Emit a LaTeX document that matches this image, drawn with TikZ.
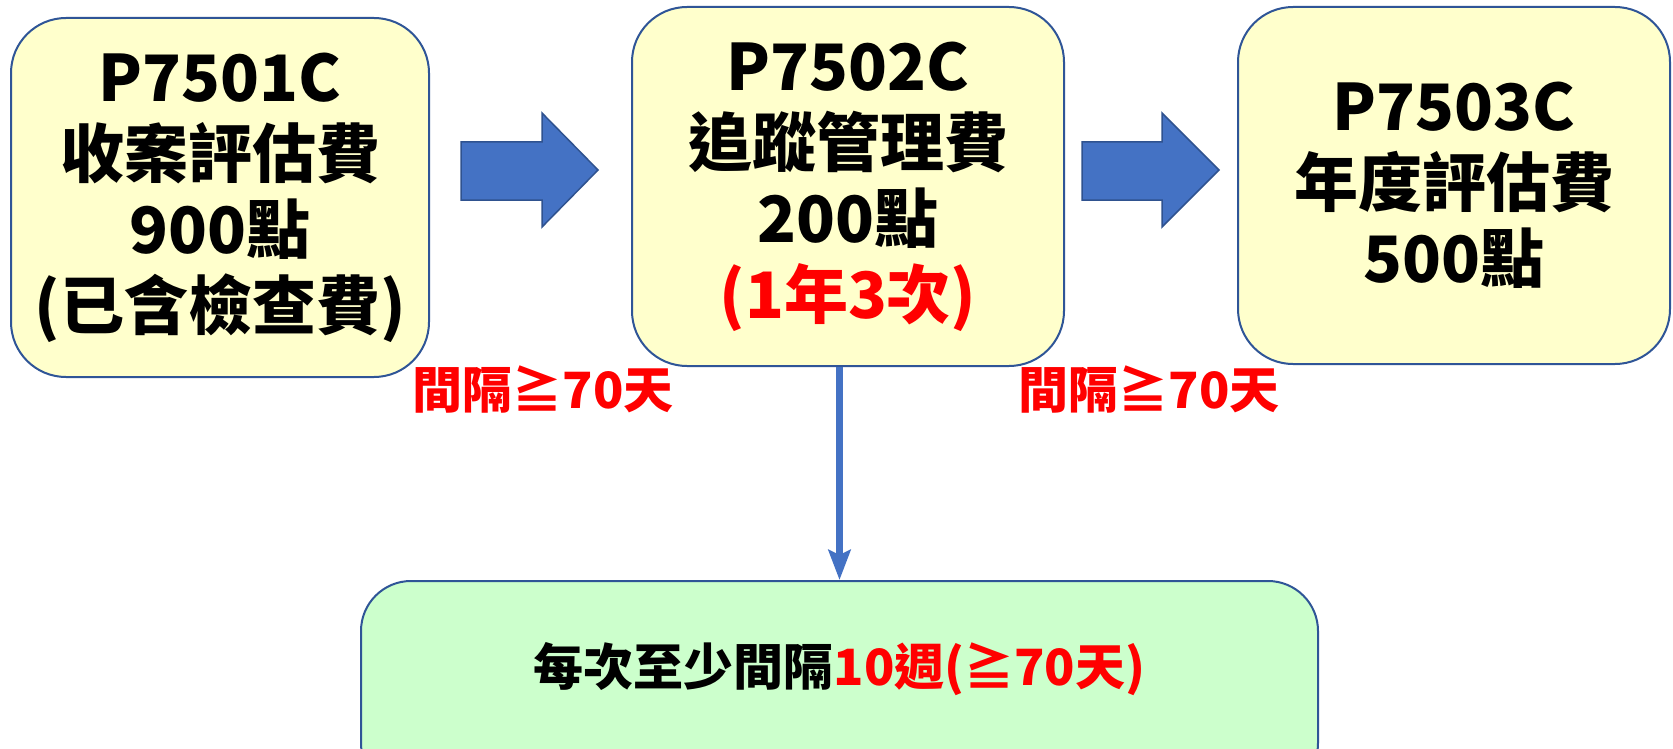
\documentclass[tikz,border=0pt]{standalone}
\usepackage{fontspec}
\setmainfont{Noto Sans CJK TC}
\usetikzlibrary{arrows.meta}
\definecolor{boxfill}{HTML}{FFFFCC}
\definecolor{greenfill}{HTML}{CCFFCC}
\definecolor{edgeblue}{HTML}{2F5597}
\definecolor{arrowfill}{HTML}{4472C4}
\definecolor{arrowedge}{HTML}{2F528F}
\definecolor{redtext}{HTML}{FF0000}
\begin{document}
\begin{tikzpicture}[x=1pt,y=-1pt,
  fee/.style={draw=edgeblue, line width=2pt, fill=boxfill, rounded corners=55pt,
    align=center, inner sep=0pt, font=\bfseries\fontsize{64}{76}\selectfont},
  note/.style={draw=edgeblue, line width=2pt, fill=greenfill, rounded corners=50pt, inner sep=0pt},
  gap/.style={text=redtext, font=\bfseries\fontsize{50}{60}\selectfont, inner sep=0pt},
  blockarrow/.style={fill=arrowfill, draw=arrowedge, line width=1.5pt},
  vline/.style={draw=arrowfill, line width=6.5pt, -{Stealth[length=30pt,width=22pt,inset=5pt]}}
]
\clip (0,0) rectangle (1673,749);
\fill[white] (0,0) rectangle (1673,749);

\node[fee, minimum width=418pt, minimum height=359pt] (b1) at (220,197.5)
  {P7501C\\收案評估費\\900點\\(已含檢查費)};
\node[fee, minimum width=432pt, minimum height=359pt] (b2) at (848,186.5)
  {P7502C\\追蹤管理費\\200點\\\textcolor{redtext}{(1年3次)}};
\node[fee, minimum width=432pt, minimum height=357pt] (b3) at (1454,185.5)
  {P7503C\\年度評估費\\500點};

\node[note, minimum width=957pt, minimum height=212pt] (b4) at (839.5,687) {};
\node[font=\bfseries\fontsize{50}{60}\selectfont, inner sep=0pt] (t4) at (839.5,669)
  {每次至少間隔\textcolor{redtext}{10週(≧70天)}};

% block arrows
\path[blockarrow] (461,142) -- (542,142) -- (542,113) -- (598,170) -- (542,227) -- (542,200) -- (461,200) -- cycle;
\path[blockarrow] (1082,142) -- (1162,142) -- (1162,113) -- (1219,170) -- (1162,227) -- (1162,200) -- (1082,200) -- cycle;

\node[gap] (g1) at (543,390) {間隔≧70天};
\node[gap] (g2) at (1149,390) {間隔≧70天};

\draw[vline] (b4.north |- b2.south) -- (b4.north);
\end{tikzpicture}
\end{document}
